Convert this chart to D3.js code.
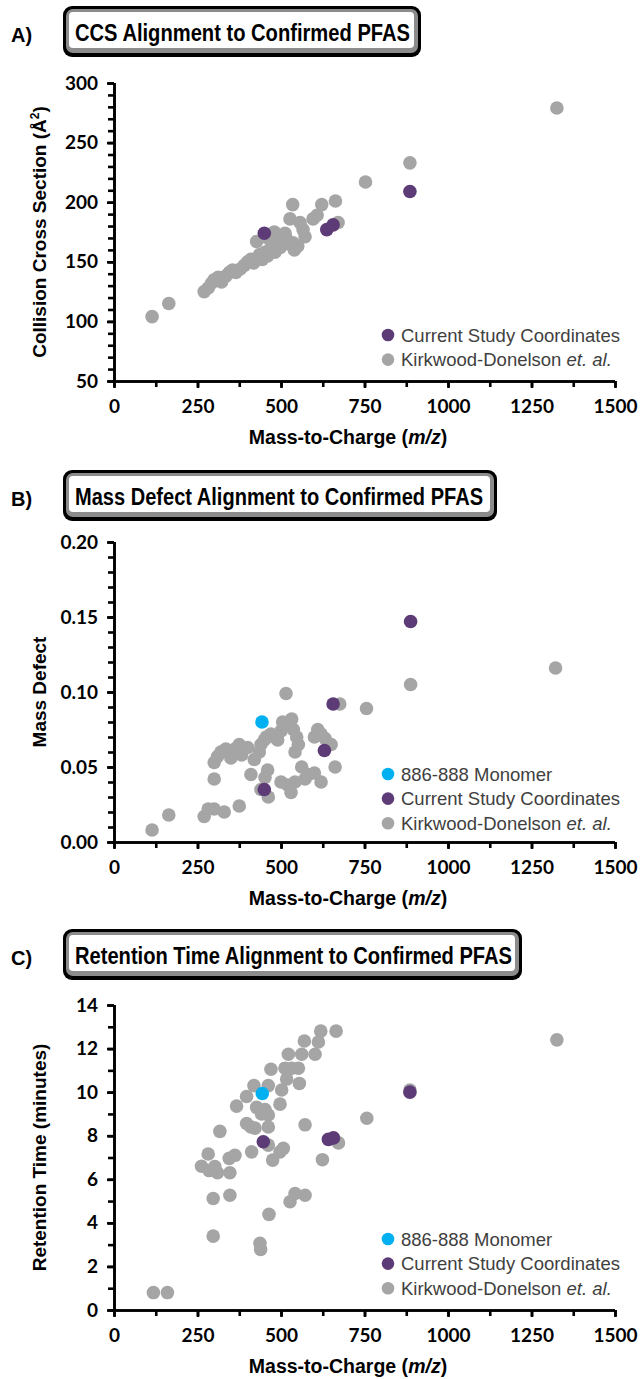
<!DOCTYPE html>
<html>
<head>
<meta charset="utf-8">
<script src="https://cdn.jsdelivr.net/npm/d3@7"></script>
<style>
  body { margin: 0; background: #fff; }
  svg { display: block; }
</style>
</head>
<body>
<svg id="fig" width="641" height="1379"></svg>
<script>
// ---- data ----
// A) CCS vs m/z
const ccsKirkwood = [
  [114,104],[164,115],[270,125],[282,128],[292,132],[300,135],[312,137],[322,133],
  [335,138],[345,141],[355,143],[365,141],[378,144],[390,147],[400,150],[410,152],
  [418,149],[428,153],[436,156],[444,152],[452,158],[460,155],[466,160],[474,163],
  [482,158],[490,165],[498,162],[506,168],[514,171],[524,165],[427,167],[502,167],
  [536,166],[512,174],[566,177],[572,171],[527,186],[557,183],[596,186],[608,189],
  [535,198],[622,198],[663,201],[671,183],[753,217],[886,233],[1326,279],[540,160],
  [550,163],[460,170],[480,175]
];
const ccsCurrent = [[450,174],[637,177],[656,181],[886,209]];

// B) mass defect vs m/z
const mdKirkwood = [
  [114,0.008],[164,0.018],[270,0.017],[282,0.022],[300,0.022],[330,0.020],[375,0.024],
  [300,0.042],[300,0.053],[310,0.057],[320,0.060],[335,0.062],[350,0.056],[362,0.062],
  [375,0.065],[382,0.058],[400,0.063],[410,0.045],[420,0.055],[435,0.060],[440,0.065],
  [450,0.068],[456,0.070],[460,0.048],[470,0.072],[480,0.070],[490,0.068],[500,0.074],
  [505,0.080],[515,0.099],[522,0.078],[532,0.082],[537,0.075],[542,0.060],[547,0.070],
  [552,0.065],[562,0.050],[572,0.042],[582,0.045],[600,0.070],[610,0.075],[620,0.072],
  [632,0.069],[650,0.065],[662,0.050],[440,0.035],[452,0.043],[462,0.030],[500,0.040],
  [520,0.038],[530,0.033],[542,0.040],[600,0.046],[620,0.040],[676,0.092],[756,0.089],
  [888,0.105],[1322,0.116]
];
const mdCurrent = [[450,0.035],[630,0.061],[656,0.092],[888,0.147]];
const mdMonomer = [[443,0.080]];

// C) retention time vs m/z
const rtKirkwood = [
  [619,12.8],[665,12.8],[570,12.35],[612,12.3],[522,11.74],[562,11.74],[602,11.74],
  [470,11.05],[512,11.1],[532,11.1],[552,11.1],[517,10.6],[555,10.4],[419,10.3],
  [462,10.3],[502,10.1],[397,9.8],[367,9.36],[427,9.3],[497,9.45],[442,9.0],[462,8.95],
  [452,9.2],[397,8.56],[422,8.35],[462,8.4],[572,8.5],[757,8.8],[317,8.2],[410,8.4],
  [462,7.57],[672,7.67],[507,7.42],[497,7.26],[412,7.26],[362,7.1],[345,6.96],[282,7.16],
  [262,6.6],[302,6.58],[347,6.3],[624,6.9],[475,6.88],[285,6.4],[310,6.3],
  [297,5.12],[347,5.27],[464,4.39],[527,4.97],[542,5.35],[572,5.27],[297,3.39],
  [437,3.06],[439,2.78],[118,0.8],[160,0.8],[886,10.1],[1326,12.4]
];
const rtCurrent = [[447,7.72],[642,7.83],[657,7.9],[886,10.0]];
const rtMonomer = [[444,9.94]];

const xTicks = [0,250,500,750,1000,1250,1500];

const GRAY = "#a5a5a5", PURPLE = "#5c3b76", CYAN = "#00b0f0";

const svg = d3.select("#fig");
svg.append("rect").attr("width",641).attr("height",1379).attr("fill","#fff");

function titleBox(label, title, top, right, textW) {
  const g = svg.append("g");
  const left = 63, h = 51;
  g.append("rect").attr("x",left).attr("y",top).attr("width",right-left).attr("height",h)
    .attr("rx",9).attr("fill","#000");
  g.append("rect").attr("x",left+3).attr("y",top+3).attr("width",right-left-6).attr("height",h-7)
    .attr("rx",7).attr("fill","#8c8c8c");
  g.append("rect").attr("x",left+6).attr("y",top+6).attr("width",right-left-13).attr("height",h-15)
    .attr("rx",4).attr("fill","#fff");
  g.append("text").attr("x",75).attr("y",top+35)
    .attr("font-family","'Liberation Sans Narrow','Liberation Sans',Arial,sans-serif")
    .attr("font-weight","bold").attr("font-size",23)
    .attr("textLength",textW).attr("lengthAdjust","spacingAndGlyphs")
    .text(title);
  svg.append("text").attr("x",11).attr("y",top+36)
    .attr("font-family","'Liberation Sans',Arial,sans-serif")
    .attr("font-weight","bold").attr("font-size",20)
    .text(label);
}

function panel(cfg) {
  const x = d3.scaleLinear().domain([0,1500]).range([114,615]);
  const y = d3.scaleLinear().domain(cfg.yDomain).range([cfg.bottom, cfg.top]);
  const g = svg.append("g");

  // minor ticks
  const yAxisMinor = d3.axisLeft(y).tickValues(cfg.yMinor).tickSize(6).tickFormat("");
  const xAxisMinor = d3.axisBottom(x).tickValues(d3.range(0,1501,125)).tickSize(6).tickFormat("");
  g.append("g").attr("class","yax").attr("transform",`translate(114,0)`).call(yAxisMinor);
  g.append("g").attr("class","xax").attr("transform",`translate(0,${cfg.bottom})`).call(xAxisMinor);

  const yAxis = d3.axisLeft(y).tickValues(cfg.yTicks).tickSize(7).tickPadding(9)
    .tickFormat(cfg.yFormat);
  const xAxis = d3.axisBottom(x).tickValues(xTicks).tickSize(7).tickPadding(12)
    .tickFormat(d3.format("d"));
  g.append("g").attr("class","yax").attr("transform",`translate(114,0)`).call(yAxis);
  g.append("g").attr("class","xax").attr("transform",`translate(0,${cfg.bottom})`).call(xAxis);

  g.selectAll(".domain, .tick line").attr("stroke","#000").attr("stroke-width",2.6);
  g.selectAll(".xax .domain").attr("d","M114,0.5H615");
  g.selectAll(".yax .domain").attr("d",`M0.5,${cfg.top}V${cfg.bottom}`);
  g.selectAll(".tick text")
    .attr("font-family","Lato,'Open Sans',sans-serif").attr("font-weight","bold")
    .attr("font-size",19).attr("fill","#000");

  // points
  const layers = [[cfg.gray,GRAY],[cfg.purple,PURPLE],[cfg.cyan||[],CYAN]];
  layers.forEach(([data,col]) => {
    g.append("g").selectAll("circle").data(data).join("circle")
      .attr("cx",d=>x(d[0])).attr("cy",d=>y(d[1])).attr("r",6.8).attr("fill",col);
  });

  // axis titles
  const xt = g.append("text").attr("x",348).attr("y",cfg.bottom+63).attr("text-anchor","middle")
    .attr("font-family","'Liberation Sans',Arial,sans-serif").attr("font-weight","bold")
    .attr("font-size",19.5);
  xt.append("tspan").text("Mass-to-Charge (");
  xt.append("tspan").attr("font-style","italic").text("m/z");
  xt.append("tspan").text(")");

  const yt = g.append("text")
    .attr("transform",`translate(46,${(cfg.top+cfg.bottom)/2}) rotate(-90)`)
    .attr("text-anchor","middle")
    .attr("font-family","'Liberation Sans',Arial,sans-serif").attr("font-weight","bold")
    .attr("font-size",19);
  cfg.yTitle(yt);

  // legend
  const lg = g.append("g");
  cfg.legend.forEach((item,i) => {
    const ly = cfg.legendY + i*24.6;
    lg.append("circle").attr("cx",388).attr("cy",ly).attr("r",6.3).attr("fill",item.color);
    const t = lg.append("text").attr("x",401).attr("y",ly+6.5)
      .attr("font-family","'Liberation Sans',Arial,sans-serif").attr("font-size",18.5)
      .attr("fill","#404040");
    item.text(t);
  });
}

const kirkLegend = t => { t.append("tspan").text("Kirkwood-Donelson "); t.append("tspan").attr("font-style","italic").text("et. al."); };
const curLegend = t => t.text("Current Study Coordinates");
const monoLegend = t => t.text("886-888 Monomer");

titleBox("A)","CCS Alignment to Confirmed PFAS",6,421,335);
panel({
  top:83, bottom:381, yDomain:[50,300],
  yTicks:d3.range(50,301,50), yMinor:d3.range(50,301,10), yFormat:d3.format("d"),
  gray:ccsKirkwood, purple:ccsCurrent,
  yTitle: t => { t.append("tspan").text("Collision Cross Section (Å"); t.append("tspan").attr("font-size",12).attr("dy",-7).text("2"); t.append("tspan").attr("dy",7).text(")"); },
  legendY:335,
  legend:[{color:PURPLE,text:curLegend},{color:GRAY,text:kirkLegend}]
});

titleBox("B)","Mass Defect Alignment to Confirmed PFAS",470,497,408);
panel({
  top:542, bottom:842, yDomain:[0,0.2],
  yTicks:d3.range(0,0.201,0.05), yMinor:d3.range(0,0.2001,0.01), yFormat:d3.format(".2f"),
  gray:mdKirkwood, purple:mdCurrent, cyan:mdMonomer,
  yTitle: t => t.text("Mass Defect"),
  legendY:774,
  legend:[{color:CYAN,text:monoLegend},{color:PURPLE,text:curLegend},{color:GRAY,text:kirkLegend}]
});

titleBox("C)","Retention Time Alignment to Confirmed PFAS",929,522,437);
panel({
  top:1005, bottom:1310, yDomain:[0,14],
  yTicks:d3.range(0,15,2), yMinor:d3.range(0,15,1), yFormat:d3.format("d"),
  gray:rtKirkwood, purple:rtCurrent, cyan:rtMonomer,
  yTitle: t => t.text("Retention Time (minutes)"),
  legendY:1239,
  legend:[{color:CYAN,text:monoLegend},{color:PURPLE,text:curLegend},{color:GRAY,text:kirkLegend}]
});
</script>
</body>
</html>
